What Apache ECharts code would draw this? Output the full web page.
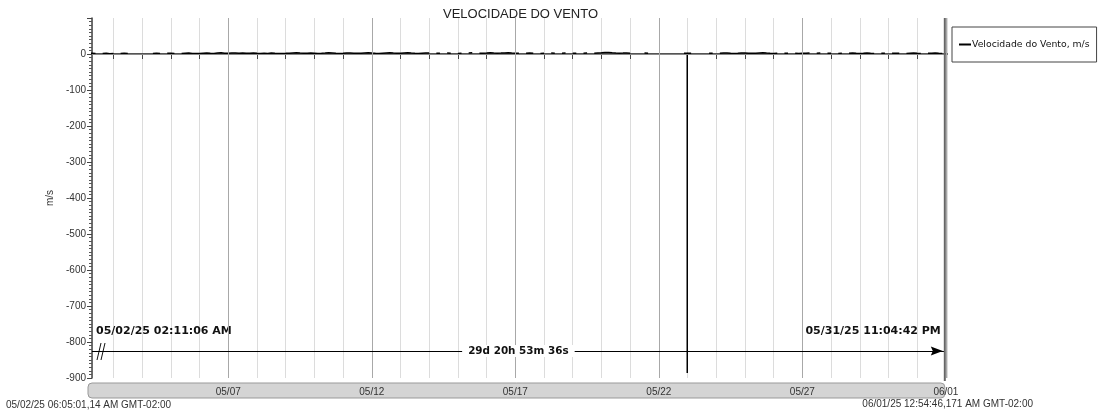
<!DOCTYPE html>
<html><head><meta charset="utf-8">
<script src="https://cdn.jsdelivr.net/npm/echarts@6/dist/echarts.min.js"></script>
<style>html,body{margin:0;padding:0;background:#fff}#c{width:1098px;height:414px}</style>
</head><body><div id="c"></div><script>
const chartTitle = 'VELOCIDADE DO VENTO';
const seriesName = 'Velocidade do Vento, m/s';
const yAxisName = 'm/s';
const axisStart = '2025-05-02 06:05:01';
const axisEnd = '2025-06-01 00:54:46';
const recordStart = '2025-05-02 02:11:06';
const recordEnd = '2025-05-31 23:04:42';
const recordStartLabel = '05/02/25 02:11:06 AM';
const recordEndLabel = '05/31/25 11:04:42 PM';
const durationText = '29d 20h 53m 36s';
const startStamp = '05/02/25 06:05:01,14 AM GMT-02:00';
const endStamp = '06/01/25 12:54:46,171 AM GMT-02:00';
const majorDays = ['2025-05-07','2025-05-12','2025-05-17','2025-05-22','2025-05-27','2025-06-01'];
const yMin = -900, yMax = 100, yStep = 100;
const annotationLevel = -825;
const annotationTextLevel = -770;
// samples every 3 h starting 05/02 00:00 (one row per day)
const sampleStart = '2025-05-02 00:00:00';
const sampleStepHours = 3;
const windSpeed = [
  null,1.2,2.0,1.4,null,1.7,2.3,0.9,
  1.6,null,1.1,2.2,1.3,null,null,null,
  null,null,null,1.4,2.0,1.5,null,1.8,
  2.2,1.6,null,1.1,1.9,2.6,1.5,1.2,
  1.7,2.3,2.9,2.1,1.6,2.7,3.2,2.0,
  1.9,2.5,3.0,2.2,2.6,1.8,2.4,3.1,
  2.0,1.4,2.2,1.7,2.8,2.1,1.5,1.6,
  1.8,2.4,2.9,3.3,2.5,1.9,2.2,2.7,
  2.3,1.7,2.1,2.6,3.4,2.8,2.0,1.5,
  1.9,2.6,3.1,2.4,1.8,2.2,2.9,3.5,
  2.7,2.1,1.6,2.3,3.0,3.6,2.5,1.9,
  2.2,2.8,3.3,2.6,2.0,1.7,2.4,3.1,
  2.5,null,1.8,2.2,null,2.9,2.3,null,
  1.6,2.1,null,2.7,3.2,null,1.9,2.4,
  2.8,3.4,2.6,2.0,2.5,3.1,3.7,2.9,
  2.3,1.8,null,2.4,3.0,2.2,null,1.7,
  2.1,null,2.6,1.9,null,2.3,2.8,null,
  1.8,2.4,null,2.0,2.7,null,2.2,2.9,
  3.3,3.9,4.5,3.6,2.8,2.2,2.6,3.1,
  2.4,null,1.9,null,2.5,2.0,null,1.6,
  null,2.2,null,1.8,null,2.1,null,1.9,
  1.7,2.3,null,1.9,null,null,2.4,2.0,
  null,1.8,2.5,2.9,2.2,1.6,2.0,2.7,
  3.1,2.4,1.9,2.3,2.8,3.2,2.6,2.1,
  1.7,2.2,null,1.8,2.4,null,2.0,1.5,
  2.3,1.9,2.6,null,2.1,2.7,null,1.8,
  2.2,null,1.7,2.3,null,1.9,2.5,2.0,
  1.6,2.1,2.8,2.2,1.7,null,2.3,1.9,
  null,1.8,2.4,2.0,null,1.6,2.2,2.7,
  2.1,1.7,null,2.3,1.9,2.5,2.0,1.6
];
// short faulty reading near midnight 05/22-05/23
const spikeEvent = [['2025-05-22 23:44:00', 1.9], ['2025-05-22 23:45:00', -886], ['2025-05-22 23:46:00', 1.8]];

function t(s){ return new Date(s.replace(' ', 'T')).getTime(); }
const DAY = 86400000;
const pts = windSpeed.map((v,i)=>[t(sampleStart) + i*sampleStepHours*3600000, v]);
spikeEvent.forEach(s=>pts.push([t(s[0]), s[1]]));
pts.sort((a,b)=>a[0]-b[0]);

const xMin = t(axisStart), xMax = t(axisEnd);
const lineStart = Math.max(t(recordStart), xMin);
const lineEnd = Math.min(t(recordEnd), xMax);
const majorSet = new Set(majorDays.map(d=>t(d+' 00:00:00')));
const pad2 = n => (n<10?'0':'')+n;

const chart = echarts.init(document.getElementById('c'), null, {renderer:'canvas'});
chart.setOption({
  animation:false,
  backgroundColor:'#fff',
  title:{text:chartTitle, left:438, top:3, textStyle:{fontFamily:'Liberation Sans', fontSize:13, fontWeight:'normal', color:'#222'}},
  legend:{data:[seriesName], left:952, top:27, orient:'vertical', padding:[13,7,13,7], borderColor:'#444', borderWidth:1,
    itemWidth:12, itemHeight:2, itemGap:0, icon:'rect',
    textStyle:{fontFamily:'DejaVu Sans', fontSize:9.3, color:'#111', padding:[0,0,0,-4]}},
  grid:{left:92, right:151, top:18, bottom:36, containLabel:false},
  xAxis:{type:'time', min:xMin, max:xMax, minInterval:DAY, maxInterval:DAY,
    axisLine:{show:true, lineStyle:{color:'#555', width:2}},
    axisTick:{show:true, length:5, lineStyle:{color:'#444'}},
    splitLine:{show:true, lineStyle:{color:'#dcdcdc', width:1}},
    axisLabel:{margin:9, fontFamily:'Liberation Sans', fontSize:10, color:'#333', hideOverlap:false,
      formatter:function(v){ const d=new Date(v); const k=new Date(d.getFullYear(),d.getMonth(),d.getDate()).getTime(); return majorSet.has(k)? pad2(d.getMonth()+1)+'/'+pad2(d.getDate()) : ''; }}},
  yAxis:{type:'value', min:yMin, max:yMax, interval:yStep,
    name:yAxisName, nameLocation:'middle', nameGap:36, nameRotate:90,
    nameTextStyle:{fontFamily:'Liberation Sans', fontSize:10, color:'#333'},
    axisLine:{show:true, lineStyle:{color:'#444', width:1.5}},
    axisTick:{show:true, length:5, lineStyle:{color:'#444'}},
    minorTick:{show:true, splitNumber:10, length:3, lineStyle:{color:'#555'}},
    splitLine:{show:false},
    axisLabel:{margin:6, fontFamily:'Liberation Sans', fontSize:10, color:'#333', formatter:v=> v===yMax?'':String(v)}},
  series:[
    {name:'_grid', type:'line', data:[], z:1, silent:true,
     markLine:{silent:true, symbol:'none', animation:false, label:{show:false},
       data:[{yAxis:0, lineStyle:{color:'#888', width:1, type:'solid'}}]
         .concat(majorDays.filter(d=>t(d+' 00:00:00')<xMax).map(d=>({xAxis:t(d+' 00:00:00'), lineStyle:{color:'#a8a8a8', width:1, type:'solid'}})))}},
    {name:seriesName, type:'line', data:pts, showSymbol:false, connectNulls:false, z:3,
     lineStyle:{color:'#000', width:1.5}, itemStyle:{color:'#000'}},
    {name:'_arrow', type:'line', data:[], z:4, silent:true,
     markLine:{silent:true, animation:false, symbol:'none',
       lineStyle:{color:'#000', width:1.2, type:'solid'},
       label:{show:true, position:'insideMiddle', formatter:durationText, backgroundColor:'#fff', padding:[1,6],
         color:'#111', fontFamily:'DejaVu Sans', fontWeight:'bold', fontSize:10.4},
       data:[[{coord:[lineStart, annotationLevel]},{coord:[lineEnd, annotationLevel]}]]}}
  ]
});

const p0 = chart.convertToPixel({xAxisIndex:0, yAxisIndex:0}, [lineStart, annotationLevel]);
const p1 = chart.convertToPixel({xAxisIndex:0, yAxisIndex:0}, [lineEnd, annotationTextLevel]);
const pe = chart.convertToPixel({xAxisIndex:0, yAxisIndex:0}, [lineEnd, annotationLevel]);
const gTop = chart.convertToPixel({yAxisIndex:0}, yMax);
const gBot = chart.convertToPixel({yAxisIndex:0}, yMin);
const borderX = p1[0];
const tipX = pe[0]-2;
const bold = {fontFamily:'DejaVu Sans', fontWeight:'bold', fontSize:11, fill:'#111'};
chart.setOption({graphic:[
  {type:'rect', z:-10, shape:{x:p0[0]-4, y:gBot+5, width:borderX-p0[0]+4, height:15, r:4}, style:{fill:'#d4d4d4', stroke:'#999', lineWidth:1}},
  {type:'line', z:5, shape:{x1:borderX, y1:gTop, x2:borderX, y2:gBot+3}, style:{stroke:'#666', lineWidth:2}},
  {type:'polygon', z:6, shape:{points:[[tipX, pe[1]], [tipX-12, pe[1]-4.5], [tipX-10, pe[1]], [tipX-12, pe[1]+4.5]]}, style:{fill:'#000'}},
  {type:'text', x:p0[0]+4, y:p1[1], style:Object.assign({text:recordStartLabel, verticalAlign:'middle', align:'left'}, bold)},
  {type:'text', x:p1[0]-4, y:p1[1], style:Object.assign({text:recordEndLabel, verticalAlign:'middle', align:'right'}, bold)},
  {type:'line', shape:{x1:p0[0]+5, y1:p0[1]+9, x2:p0[0]+9, y2:p0[1]-8}, style:{stroke:'#111', lineWidth:1}},
  {type:'line', shape:{x1:p0[0]+9, y1:p0[1]+9, x2:p0[0]+13, y2:p0[1]-8}, style:{stroke:'#111', lineWidth:1}},
  {type:'text', x:6, y:405, style:{text:startStamp, verticalAlign:'middle', fontFamily:'Liberation Sans', fontSize:10, fill:'#333'}},
  {type:'text', x:1033, y:404, style:{text:endStamp, verticalAlign:'middle', align:'right', fontFamily:'Liberation Sans', fontSize:10, fill:'#333'}}
]});
</script></body></html>
